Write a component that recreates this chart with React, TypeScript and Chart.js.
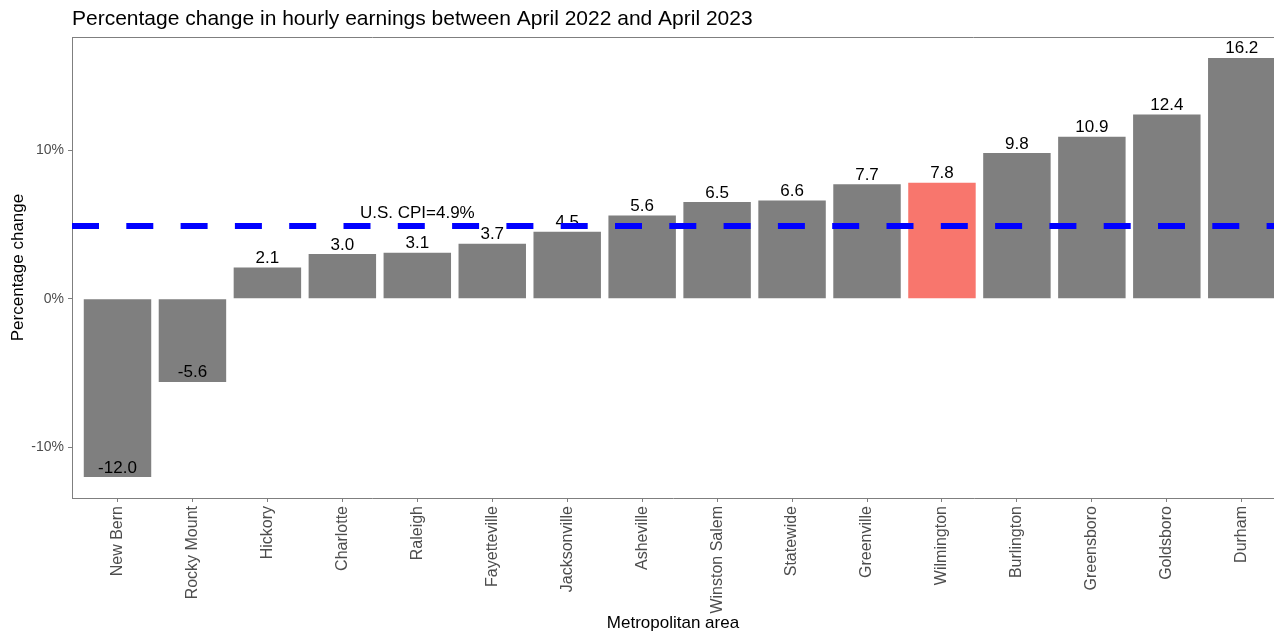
import React, { useEffect, useRef } from "react";
import { Chart, registerables } from "chart.js";

Chart.register(...registerables);

const cities = [
  "New Bern", "Rocky Mount", "Hickory", "Charlotte", "Raleigh", "Fayetteville",
  "Jacksonville", "Asheville", "Winston Salem", "Statewide", "Greenville",
  "Wilmington", "Burlington", "Greensboro", "Goldsboro", "Durham",
];
const changes = [-12.0, -5.6, 2.1, 3.0, 3.1, 3.7, 4.5, 5.6, 6.5, 6.6, 7.7, 7.8, 9.8, 10.9, 12.4, 16.2];
const highlight = "Wilmington";
const cpi = 4.9;
const cpiLabel = "U.S. CPI=4.9%";
const cpiLabelAt = 4;
const yTicks = [-10, 0, 10];
const titleText = "Percentage change in hourly earnings between April 2022 and April 2023";

const FONT = "'Liberation Sans', Arial, Helvetica, sans-serif";
const X_MIN = -0.607;
const X_MAX = 15.43;
const Y_MIN = -13.41;
const Y_MAX = 17.61;

const overlayPlugin = {
  id: "overlay",
  afterDatasetDraw(chart: any, args: any) {
    if (args.index !== 0) return;
    const ctx = chart.ctx;
    const xs = chart.scales.x;
    const ys = chart.scales.y;
    ctx.save();
    ctx.fillStyle = "#000000";
    ctx.font = `17px ${FONT}`;
    ctx.textAlign = "center";
    ctx.textBaseline = "alphabetic";
    changes.forEach((v, i) => {
      ctx.fillText(v.toFixed(1), xs.getPixelForValue(i), ys.getPixelForValue(v) - 4.5);
    });
    ctx.fillText(cpiLabel, xs.getPixelForValue(cpiLabelAt), ys.getPixelForValue(cpi) - 8);
    ctx.restore();
  },
  afterDraw(chart: any) {
    const ctx = chart.ctx;
    const a = chart.chartArea;
    ctx.save();
    ctx.strokeStyle = "#7f7f7f";
    ctx.lineWidth = 1;
    ctx.beginPath();
    ctx.moveTo(a.left, a.top + 0.5);
    ctx.lineTo(a.right, a.top + 0.5);
    ctx.stroke();
    ctx.fillStyle = "#000000";
    ctx.font = `21px ${FONT}`;
    ctx.textAlign = "left";
    ctx.textBaseline = "alphabetic";
    ctx.fillText(titleText, a.left, 24.5);
    ctx.restore();
  },
};

export default function App() {
  const ref = useRef<HTMLCanvasElement | null>(null);
  useEffect(() => {
    if (!ref.current) return;
    const chart = new Chart(ref.current, {
      type: "bar",
      data: {
        datasets: [
          {
            type: "bar",
            data: changes.map((v, i) => ({ x: i, y: v })),
            backgroundColor: cities.map((c) => (c === highlight ? "#F8766D" : "#7F7F7F")),
            barPercentage: 0.9,
            categoryPercentage: 1,
            borderWidth: 0,
            order: 1,
          } as any,
          {
            type: "line",
            data: [{ x: X_MIN, y: cpi }, { x: X_MAX, y: cpi }],
            borderColor: "#0000FF",
            borderWidth: 6,
            borderDash: [27, 27.3],
            borderCapStyle: "butt",
            pointRadius: 0,
            fill: false,
            order: 0,
          } as any,
        ],
      },
      options: {
        animation: false,
        responsive: false,
        devicePixelRatio: 1,
        layout: { padding: { top: 37, left: 0, right: 0, bottom: 0 } },
        plugins: { legend: { display: false }, tooltip: { enabled: false }, title: { display: false } },
        scales: {
          x: {
            type: "linear",
            min: X_MIN,
            max: X_MAX,
            offset: false,
            afterBuildTicks: (s: any) => {
              s.ticks = cities.map((_, i) => ({ value: i }));
            },
            afterFit: (s: any) => {
              s.height = 138;
            },
            grid: { offset: false, drawOnChartArea: false, tickLength: 4, color: "#7f7f7f" },
            border: { display: true, color: "#7f7f7f", width: 1 },
            ticks: {
              autoSkip: false,
              minRotation: 90,
              maxRotation: 90,
              padding: 4,
              color: "#4D4D4D",
              font: { family: FONT, size: 16 },
              callback: (v: any) => cities[v] ?? "",
            },
            title: {
              display: true,
              text: "Metropolitan area",
              color: "#000000",
              font: { family: FONT, size: 17 },
              padding: { top: 0, bottom: 2 },
            },
          },
          y: {
            type: "linear",
            min: Y_MIN,
            max: Y_MAX,
            afterBuildTicks: (s: any) => {
              s.ticks = yTicks.map((v) => ({ value: v }));
            },
            afterFit: (s: any) => {
              s.width = 72;
            },
            grid: { drawOnChartArea: false, tickLength: 4, color: "#7f7f7f" },
            border: { display: true, color: "#7f7f7f", width: 1 },
            ticks: {
              padding: 4,
              color: "#4D4D4D",
              font: { family: FONT, size: 14 },
              callback: (v: any) => `${v}%`,
            },
            title: {
              display: true,
              text: "Percentage change",
              color: "#000000",
              font: { family: FONT, size: 17 },
              padding: { top: 8, bottom: 0 },
            },
          },
        },
      } as any,
      plugins: [overlayPlugin],
    });
    return () => chart.destroy();
  }, []);
  return (
    <div style={{ position: "absolute", left: 0, top: 0, width: 1274, height: 636, background: "#ffffff" }}>
      <canvas ref={ref} width={1274} height={636} style={{ display: "block" }} />
    </div>
  );
}
